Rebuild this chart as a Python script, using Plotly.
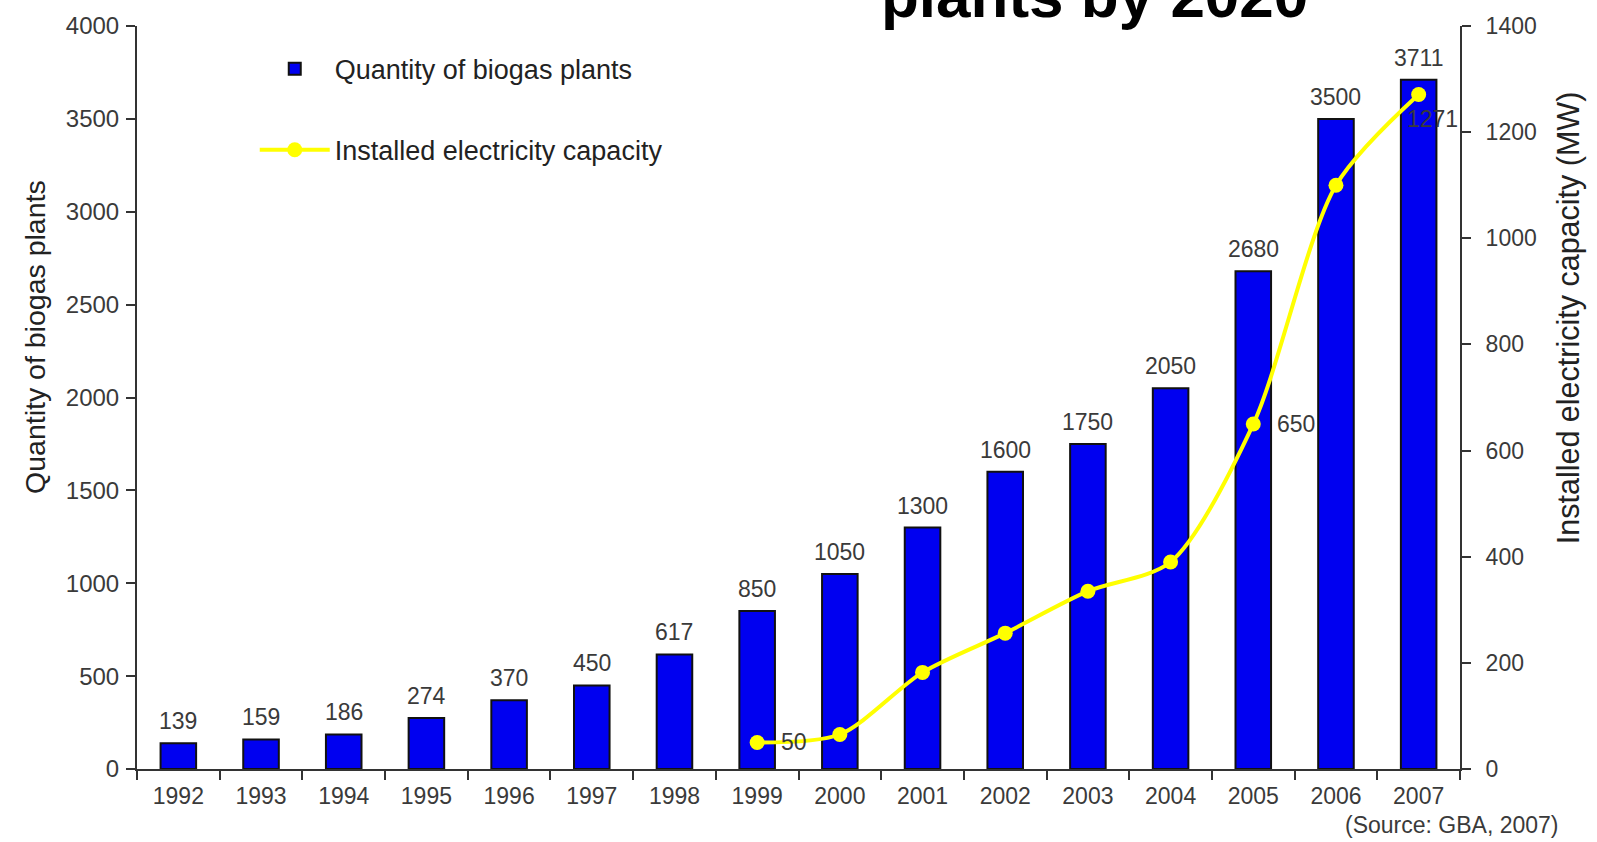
import plotly.graph_objects as go

years = ["1992", "1993", "1994", "1995", "1996", "1997", "1998", "1999",
         "2000", "2001", "2002", "2003", "2004", "2005", "2006", "2007"]
plants = [139, 159, 186, 274, 370, 450, 617, 850, 1050, 1300, 1600, 1750,
          2050, 2680, 3500, 3711]

cap_years = ["1999", "2000", "2001", "2002", "2003", "2004", "2005", "2006", "2007"]
capacity = [50, 65, 182, 256, 335, 390, 650, 1100, 1271]
cap_labeled = ["1999", "2005", "2007"]

FONT = "Liberation Sans, Arial, sans-serif"
GRAY = "#3a3a3a"

fig = go.Figure()
fig.add_trace(go.Bar(
    x=years, y=plants, name="Quantity of biogas plants",
    marker=dict(color="#0000f0", line=dict(color="#111111", width=2)),
    width=0.43, legendgroup="a", yaxis="y",
))
fig.add_trace(go.Scatter(
    x=cap_years, y=capacity, name="Installed electricity capacity",
    mode="lines+markers", line=dict(color="#ffff00", width=4, shape="spline", smoothing=0.8),
    marker=dict(color="#ffff00", size=15), legendgroup="b", yaxis="y2",
))

ann = []
for yr, v in zip(years, plants):
    ann.append(dict(x=years.index(yr), y=v, xref="x", yref="y", text=str(v), showarrow=False,
                    yshift=22, font=dict(size=23, color=GRAY, family=FONT)))
shifts = {"1999": (22, 0), "2005": (22, 0), "2007": (-14, -25)}
for yr, v in zip(cap_years, capacity):
    if yr in cap_labeled:
        dx, dy = shifts[yr]
        ann.append(dict(x=years.index(yr), y=v, xref="x", yref="y2", text=str(v), showarrow=False,
                        xanchor="left", yanchor="middle", xshift=dx, yshift=dy,
                        font=dict(size=23, color=GRAY, family=FONT)))
ann.append(dict(x=0.724, y=1.041, xref="paper", yref="paper", text="<b>plants by 2020</b>",
                showarrow=False, xanchor="center", yanchor="middle",
                font=dict(size=62, color="black", family=FONT)))
ann.append(dict(x=1.076, y=-0.075, xref="paper", yref="paper", text="(Source: GBA, 2007)",
                showarrow=False, xanchor="right", yanchor="middle",
                font=dict(size=23, color=GRAY, family=FONT)))
# axis titles (offset from axis centre as in the original)
ann.append(dict(x=-0.0766, y=0.581, xref="paper", yref="paper", text="Quantity of biogas plants",
                showarrow=False, textangle=-90, xanchor="center", yanchor="middle",
                font=dict(size=28.5, color="#222", family=FONT)))
ann.append(dict(x=1.0816, y=0.608, xref="paper", yref="paper", text="Installed electricity capacity (MW)",
                showarrow=False, textangle=-90, xanchor="center", yanchor="middle",
                font=dict(size=30.5, color="#222", family=FONT)))

axis_common = dict(showline=True, linecolor="#333333", linewidth=2, ticks="outside",
                   ticklen=9, tickwidth=2, tickcolor="#333333", showgrid=False,
                   zeroline=False)

fig.update_layout(
    width=1597, height=842,
    margin=dict(l=137, r=137, t=19, b=73),
    paper_bgcolor="white", plot_bgcolor="white",
    font=dict(family=FONT, color=GRAY),
    xaxis=dict(type="category", categoryorder="array", categoryarray=years,
               range=[-0.5, len(years) - 0.5], tickangle=0, ticklabelstandoff=5,
               tickson="boundaries", tickfont=dict(size=23, color=GRAY, family=FONT),
               **axis_common),
    yaxis=dict(range=[0, 4000], dtick=500, ticklabelstandoff=2,
               tickfont=dict(size=24, color=GRAY, family=FONT), **axis_common),
    yaxis2=dict(range=[0, 1400], dtick=200, overlaying="y", side="right",
                ticklabelstandoff=10, tickfont=dict(size=23, color=GRAY, family=FONT),
                **axis_common),
    legend=dict(x=0.089, y=0.975, xanchor="left", yanchor="top", bgcolor="rgba(0,0,0,0)",
                font=dict(size=27, color="#222", family=FONT), itemwidth=70,
                traceorder="grouped", tracegroupgap=43),
    annotations=ann,
)

fig.write_html("out.html")
